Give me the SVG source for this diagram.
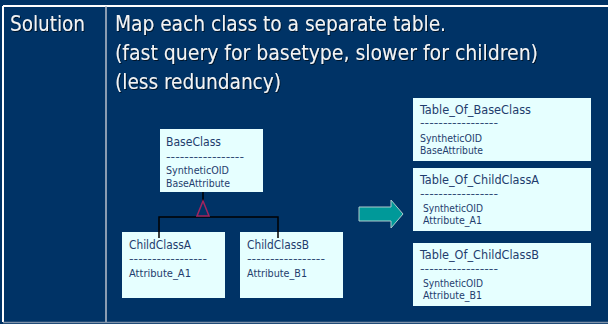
<svg xmlns="http://www.w3.org/2000/svg" width="608" height="324" viewBox="0 0 608 324">
<defs>
<filter id="sh" x="-5%" y="-20%" width="110%" height="150%">
<feDropShadow dx="1" dy="1" stdDeviation="0.3" flood-color="#000" flood-opacity="0.6"/>
</filter>
<style>
.bg{fill:#003366}
.rule{stroke:#ffffff;stroke-width:2}
.rule2{stroke:#b8c0cc;stroke-width:1.5}
.main{font-family:"DejaVu Sans Condensed","DejaVu Sans",sans-serif;font-size:21px;fill:#f4f4f4;filter:url(#sh)}
.box{fill:#e6ffff}
.t{font-family:"DejaVu Sans Condensed","DejaVu Sans",sans-serif;fill:#1f3d6d}
.ti{font-size:12.5px}
.at{font-size:10px}
.ds{font-size:10px}
.conn{stroke:#000;stroke-width:1.5;fill:none}
.inh{stroke:#a3245e;stroke-width:1.5;fill:none}
.arrow{fill:#009999;stroke:#b0cccc;stroke-width:1}
</style>
</defs>
<rect class="bg" x="0" y="0" width="608" height="324"/>
<g id="frame">
<line class="rule" x1="3" y1="6" x2="608" y2="6"/>
<line class="rule" x1="3" y1="6" x2="3" y2="322"/>
<line class="rule2" x1="106" y1="6" x2="106" y2="322"/>
<line x1="3" y1="322.5" x2="608" y2="322.5" stroke="#7f93aa" stroke-width="1.5"/>
</g>
<g id="header">
<text class="main" x="10" y="30.5" textLength="75" lengthAdjust="spacingAndGlyphs">Solution</text>
<text class="main" x="115" y="30.5" textLength="331" lengthAdjust="spacingAndGlyphs">Map each class to a separate table.</text>
<text class="main" x="115" y="60" textLength="423" lengthAdjust="spacingAndGlyphs">(fast query for basetype, slower for children)</text>
<text class="main" x="115" y="89" textLength="166" lengthAdjust="spacingAndGlyphs">(less redundancy)</text>
</g>
<g id="BaseClass">
<rect class="box" x="160" y="129" width="103" height="63"/>
<text class="t ti" x="166" y="146" textLength="55" lengthAdjust="spacingAndGlyphs">BaseClass</text>
<text class="t ds" x="166" y="160" textLength="78" lengthAdjust="spacingAndGlyphs">-----------------</text>
<text class="t at" x="166" y="174" textLength="63" lengthAdjust="spacingAndGlyphs">SyntheticOID</text>
<text class="t at" x="166" y="187" textLength="64" lengthAdjust="spacingAndGlyphs">BaseAttribute</text>
</g>
<g id="ChildClassA">
<rect class="box" x="122" y="232" width="103" height="66"/>
<text class="t ti" x="129" y="249" textLength="62" lengthAdjust="spacingAndGlyphs">ChildClassA</text>
<text class="t ds" x="129" y="262" textLength="78" lengthAdjust="spacingAndGlyphs">-----------------</text>
<text class="t at" x="129" y="277" textLength="62" lengthAdjust="spacingAndGlyphs">Attribute_A1</text>
</g>
<g id="ChildClassB">
<rect class="box" x="240" y="232" width="103" height="66"/>
<text class="t ti" x="247" y="249" textLength="62" lengthAdjust="spacingAndGlyphs">ChildClassB</text>
<text class="t ds" x="247" y="262" textLength="78" lengthAdjust="spacingAndGlyphs">-----------------</text>
<text class="t at" x="247" y="277" textLength="60" lengthAdjust="spacingAndGlyphs">Attribute_B1</text>
</g>
<g id="connectors">
<line class="conn" x1="203" y1="192" x2="203" y2="201"/>
<polyline class="conn" points="159,238 159,217 278,217 278,238"/>
<polygon class="inh" points="203,201 197,216 209,216"/>
</g>
<g id="mapArrow">
<polygon class="arrow" points="359,207 391,207 391,200 403,214 391,228 391,221 359,221"/>
</g>
<g id="Table_Of_BaseClass">
<rect class="box" x="413" y="98" width="178" height="63"/>
<text class="t ti" x="420" y="114" textLength="111" lengthAdjust="spacingAndGlyphs">Table_Of_BaseClass</text>
<text class="t ds" x="420" y="126" textLength="78" lengthAdjust="spacingAndGlyphs">-----------------</text>
<text class="t at" x="420" y="142" textLength="62" lengthAdjust="spacingAndGlyphs">SyntheticOID</text>
<text class="t at" x="420" y="154" textLength="63" lengthAdjust="spacingAndGlyphs">BaseAttribute</text>
</g>
<g id="Table_Of_ChildClassA">
<rect class="box" x="413" y="168" width="178" height="63"/>
<text class="t ti" x="420" y="184" textLength="119" lengthAdjust="spacingAndGlyphs">Table_Of_ChildClassA</text>
<text class="t ds" x="420" y="197" textLength="78" lengthAdjust="spacingAndGlyphs">-----------------</text>
<text class="t at" x="423" y="212" textLength="60" lengthAdjust="spacingAndGlyphs">SyntheticOID</text>
<text class="t at" x="423" y="224" textLength="59" lengthAdjust="spacingAndGlyphs">Attribute_A1</text>
</g>
<g id="Table_Of_ChildClassB">
<rect class="box" x="413" y="243" width="178" height="63"/>
<text class="t ti" x="420" y="259" textLength="119" lengthAdjust="spacingAndGlyphs">Table_Of_ChildClassB</text>
<text class="t ds" x="420" y="272" textLength="78" lengthAdjust="spacingAndGlyphs">-----------------</text>
<text class="t at" x="423" y="287" textLength="60" lengthAdjust="spacingAndGlyphs">SyntheticOID</text>
<text class="t at" x="423" y="299" textLength="59" lengthAdjust="spacingAndGlyphs">Attribute_B1</text>
</g>
</svg>
